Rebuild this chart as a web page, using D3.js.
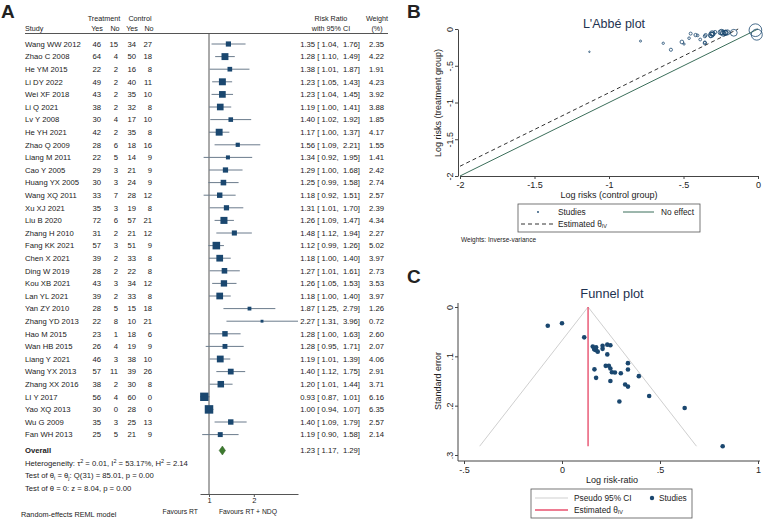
<!DOCTYPE html>
<html>
<head>
<meta charset="utf-8">
<script src="https://cdn.jsdelivr.net/npm/d3@7"></script>
<style>
  body { margin: 0; background: #fff; }
  svg { font-family: "Liberation Sans", Arial, sans-serif; }
</style>
</head>
<body>
<svg id="chart" width="768" height="522"></svg>
<script>
// Data
const studies = ["Wang WW 2012", "Zhao C 2008", "He YM 2015", "Li DY 2022", "Wei XF 2018", "Li Q 2021",
    "Lv Y 2008", "He YH 2021", "Zhao Q 2009", "Liang M 2011", "Cao Y 2005", "Huang YX 2005",
    "Wang XQ 2011", "Xu XJ 2021", "Liu B 2020", "Zhang H 2010", "Fang KK 2021", "Chen X 2021",
    "Ding W 2019", "Kou XB 2021", "Lan YL 2021", "Yan ZY 2010", "Zhang YD 2013", "Hao M 2015",
    "Wan HB 2015", "Liang Y 2021", "Wang YX 2013", "Zhang XX 2016", "LI Y 2017", "Yao XQ 2013",
    "Wu G 2009", "Fan WH 2013"];
const treatYes = [46, 64, 22, 49, 43, 38, 30, 42, 28, 22, 29, 30, 33, 35, 72, 31, 57, 39, 28, 43, 39, 28, 22, 23, 26, 46, 57, 38, 56, 30, 35, 25];
const treatNo  = [15, 4, 2, 2, 2, 2, 4, 2, 6, 5, 3, 3, 7, 3, 6, 2, 3, 2, 2, 3, 2, 5, 8, 1, 4, 3, 11, 2, 4, 0, 3, 5];
const ctrlYes  = [34, 50, 16, 40, 35, 32, 17, 35, 18, 14, 21, 24, 28, 19, 57, 21, 51, 33, 22, 34, 33, 15, 10, 18, 19, 38, 39, 30, 60, 28, 25, 21];
const ctrlNo   = [27, 18, 8, 11, 10, 8, 10, 8, 16, 9, 9, 9, 12, 8, 21, 12, 9, 8, 8, 12, 8, 18, 21, 6, 9, 10, 26, 8, 0, 0, 13, 9];
const rr = [1.35, 1.28, 1.38, 1.23, 1.23, 1.19, 1.40, 1.17, 1.56, 1.34, 1.29, 1.25, 1.18, 1.31, 1.26, 1.48,
    1.12, 1.18, 1.27, 1.26, 1.18, 1.87, 2.27, 1.28, 1.28, 1.19, 1.40, 1.20, 0.93, 1.00, 1.40, 1.19];
const rrLo = [1.04, 1.10, 1.01, 1.05, 1.04, 1.00, 1.02, 1.00, 1.09, 0.92, 1.00, 0.99, 0.92, 1.01, 1.09, 1.12,
    0.99, 1.00, 1.01, 1.05, 1.00, 1.25, 1.31, 1.00, 0.95, 1.01, 1.12, 1.01, 0.87, 0.94, 1.09, 0.90];
const rrHi = [1.76, 1.49, 1.87, 1.43, 1.45, 1.41, 1.92, 1.37, 2.21, 1.95, 1.68, 1.58, 1.51, 1.70, 1.47, 1.94,
    1.26, 1.40, 1.61, 1.53, 1.40, 2.79, 3.96, 1.63, 1.71, 1.39, 1.75, 1.44, 1.01, 1.07, 1.79, 1.58];
const weights = [2.35, 4.22, 1.91, 4.23, 3.92, 3.88, 1.85, 4.17, 1.55, 1.41, 2.42, 2.74, 2.57, 2.39, 4.34, 2.27,
    5.02, 3.97, 2.73, 3.53, 3.97, 1.26, 0.72, 2.60, 2.07, 4.06, 2.91, 3.71, 6.16, 6.35, 2.57, 2.14];
const overall = [1.23, 1.17, 1.29];
const thetaIV = 0.133;          // fixed-effect log risk-ratio (funnel apex / L'Abbé offset)
const forestTicks = [1, 2];
const labbeTicks = [-2, -1.5, -1, -0.5, 0];
const funnelXTicks = [-0.5, 0, 0.5, 1];
const funnelYTicks = [0, 0.1, 0.2, 0.3];

const navy = "#1a476f";
const svg = d3.select("#chart");
svg.append("rect").attr("width", 768).attr("height", 522).attr("fill", "#fff");

const stataFmt = d => d === 0 ? "0" : String(d).replace("0.", ".");
const f2 = d3.format(".2f");

// ---------- Panel A: forest plot ----------
const A = svg.append("g").attr("font-size", 7.7).attr("fill", "#222");
A.append("text").attr("x", 1).attr("y", 18).attr("font-size", 19).attr("font-weight", "bold").text("A");

const rowY = d3.scalePoint().domain(studies).range([44, 434.6]);
const xF = d3.scaleLog().domain([0.87, 3.96]).range([200, 298]);
const boxSize = d3.scaleSqrt().domain([0, 6.35]).range([0, 8.5]);

// headers
const H = A.append("g").attr("font-size", 7.2);
H.append("text").attr("x", 104).attr("y", 20.5).attr("text-anchor", "middle").text("Treatment");
H.append("text").attr("x", 140).attr("y", 20.5).attr("text-anchor", "middle").text("Control");
H.append("text").attr("x", 25).attr("y", 31).text("Study");
[[97, "Yes"], [115, "No"], [132, "Yes"], [149, "No"]].forEach(([x, t]) =>
    H.append("text").attr("x", x).attr("y", 31).attr("text-anchor", "middle").text(t));
H.append("text").attr("x", 331).attr("y", 20.5).attr("text-anchor", "middle").text("Risk Ratio");
H.append("text").attr("x", 331).attr("y", 31).attr("text-anchor", "middle").text("with 95% CI");
H.append("text").attr("x", 377).attr("y", 20.5).attr("text-anchor", "middle").text("Weight");
H.append("text").attr("x", 377).attr("y", 31).attr("text-anchor", "middle").text("(%)");
A.append("line").attr("x1", 25).attr("x2", 388).attr("y1", 33.5).attr("y2", 33.5)
    .attr("stroke", "#555").attr("stroke-width", 1);

// null line
A.append("line").attr("x1", xF(1)).attr("x2", xF(1)).attr("y1", 34).attr("y2", 494)
    .attr("stroke", "#555").attr("stroke-width", 1);

// study rows
const rows = A.selectAll("g.row").data(studies).join("g").attr("class", "row")
    .attr("transform", d => `translate(0,${rowY(d)})`);
rows.append("text").attr("x", 25).attr("dy", "0.35em").text(d => d);
const cols = [[101, treatYes], [118, treatNo], [136, ctrlYes], [152, ctrlNo]];
cols.forEach(([x, arr]) => {
    rows.append("text").attr("x", x).attr("dy", "0.35em").attr("text-anchor", "end")
        .text((d, i) => arr[i]);
});
rows.append("line")
    .attr("x1", (d, i) => xF(rrLo[i])).attr("x2", (d, i) => xF(rrHi[i]))
    .attr("stroke", "#6b7b8c").attr("stroke-width", 1);
rows.append("rect")
    .attr("x", (d, i) => xF(rr[i]) - boxSize(weights[i]) / 2)
    .attr("y", (d, i) => -boxSize(weights[i]) / 2)
    .attr("width", (d, i) => boxSize(weights[i]))
    .attr("height", (d, i) => boxSize(weights[i]))
    .attr("fill", navy);
rows.append("text").attr("x", 360).attr("dy", "0.35em").attr("text-anchor", "end")
    .attr("xml:space", "preserve")
    .text((d, i) => `${f2(rr[i])} [ ${f2(rrLo[i])},  ${f2(rrHi[i])}]`);
rows.append("text").attr("x", 384).attr("dy", "0.35em").attr("text-anchor", "end")
    .text((d, i) => f2(weights[i]));

// overall
const yO = 450.5;
A.append("text").attr("x", 25).attr("y", yO).attr("dy", "0.35em").attr("font-weight", "bold").text("Overall");
A.append("path")
    .attr("d", `M${xF(overall[1])},${yO} L${xF(overall[0])},${yO - 4.5} L${xF(overall[2])},${yO} L${xF(overall[0])},${yO + 4.5} Z`)
    .attr("fill", "#3d7a2e").attr("stroke", "#2d5e22").attr("stroke-width", 0.5);
A.append("text").attr("x", 360).attr("y", yO).attr("dy", "0.35em").attr("text-anchor", "end")
    .attr("xml:space", "preserve")
    .text(`${f2(overall[0])} [ ${f2(overall[1])},  ${f2(overall[2])}]`);

const het = A.append("text").attr("x", 25).attr("y", 466);
het.append("tspan").text("Heterogeneity: τ");
het.append("tspan").attr("dy", -3).attr("font-size", 5.5).text("2");
het.append("tspan").attr("dy", 3).text(" = 0.01, I");
het.append("tspan").attr("dy", -3).attr("font-size", 5.5).text("2");
het.append("tspan").attr("dy", 3).text(" = 53.17%, H");
het.append("tspan").attr("dy", -3).attr("font-size", 5.5).text("2");
het.append("tspan").attr("dy", 3).text(" = 2.14");
const t1 = A.append("text").attr("x", 25).attr("y", 478);
t1.append("tspan").text("Test of θ");
t1.append("tspan").attr("dy", 2).attr("font-size", 5.5).text("i");
t1.append("tspan").attr("dy", -2).text(" = θ");
t1.append("tspan").attr("dy", 2).attr("font-size", 5.5).text("j");
t1.append("tspan").attr("dy", -2).text(": Q(31) = 85.01, p = 0.00");
A.append("text").attr("x", 25).attr("y", 490.5).text("Test of θ = 0: z = 8.04, p = 0.00");
A.append("text").attr("x", 21).attr("y", 517).attr("font-size", 7.3).text("Random-effects REML model");

// axis
const axA = A.append("g").attr("transform", "translate(0,494)")
    .call(d3.axisBottom(xF).tickValues(forestTicks).tickFormat(d3.format("d")).tickSize(3).tickSizeOuter(0));
axA.select(".domain").attr("stroke", "#555");
axA.selectAll(".tick line").attr("stroke", "#555");
axA.selectAll("text").attr("font-size", 7.5).attr("fill", "#222").attr("y", 3.5);
axA.attr("font-family", null);
A.append("text").attr("x", 198).attr("y", 513.5).attr("font-size", 6.8).attr("text-anchor", "end").text("Favours RT");
A.append("text").attr("x", 248).attr("y", 513.5).attr("font-size", 6.8).attr("text-anchor", "middle").text("Favours RT + NDQ");

// ---------- shared helpers for B and C ----------
const se = rr.map((d, i) => (Math.log(rrHi[i]) - Math.log(rrLo[i])) / (2 * 1.96));
const styleAxis = g => {
    g.attr("font-family", null);
    g.select(".domain").attr("stroke", "#444");
    g.selectAll(".tick line").attr("stroke", "#444");
    g.selectAll(".tick text").attr("font-size", 9).attr("fill", "#222");
};
const rotateYLabels = g => {
    g.selectAll(".tick text").attr("x", 0).attr("dy", 0).attr("text-anchor", "middle")
        .attr("transform", "translate(-5,0) rotate(-90)");
};

// ---------- Panel B: L'Abbé plot ----------
const B = svg.append("g").attr("fill", "#222");
B.append("text").attr("x", 407).attr("y", 18).attr("font-size", 19).attr("font-weight", "bold").text("B");
B.append("text").attr("x", 614).attr("y", 27.5).attr("text-anchor", "middle").attr("font-size", 12.5)
    .attr("fill", "#1e3250").text("L'Abbé plot");

const xL = d3.scaleLinear().domain([-2, 0]).range([460, 758]);
const yL = d3.scaleLinear().domain([-2, 0]).range([176, 29]);

B.append("g").attr("transform", "translate(0,176)")
    .call(d3.axisBottom(xL).tickValues(labbeTicks).tickFormat(stataFmt).tickSize(3).tickSizeOuter(0))
    .call(styleAxis);
B.append("g").attr("transform", "translate(458,0)")
    .call(d3.axisLeft(yL).tickValues(labbeTicks).tickFormat(stataFmt).tickSize(3).tickSizeOuter(0))
    .call(styleAxis).call(rotateYLabels);
B.append("text").attr("x", 609).attr("y", 198).attr("text-anchor", "middle").attr("font-size", 9)
    .text("Log risks (control group)");
B.append("text").attr("transform", "translate(441,103) rotate(-90)").attr("text-anchor", "middle")
    .attr("font-size", 9).text("Log risks (treatment group)");

// reference lines
B.append("line").attr("x1", xL(-2)).attr("y1", yL(-2)).attr("x2", xL(0)).attr("y2", yL(0))
    .attr("stroke", "#3b6e5a").attr("stroke-width", 1);
B.append("line").attr("x1", xL(-2)).attr("y1", yL(-2 + thetaIV)).attr("x2", xL(-thetaIV)).attr("y2", yL(0))
    .attr("stroke", "#333").attr("stroke-width", 1).attr("stroke-dasharray", "4,3");

// study circles (0.5 continuity correction for zero cells)
const labbe = studies.map((s, i) => {
    const c = (treatNo[i] === 0 || ctrlNo[i] === 0) ? 0.5 : 0;
    return {
        x: Math.log((ctrlYes[i] + c) / (ctrlYes[i] + ctrlNo[i] + 2 * c)),
        y: Math.log((treatYes[i] + c) / (treatYes[i] + treatNo[i] + 2 * c)),
        r: 0.21 / se[i]
    };
});
B.append("g").selectAll("circle").data(labbe).join("circle")
    .attr("cx", d => xL(d.x)).attr("cy", d => yL(d.y)).attr("r", d => d.r)
    .attr("fill", "none").attr("stroke", navy).attr("stroke-width", 0.8);

// legend
const legB = B.append("g").attr("font-size", 8.3);
legB.append("rect").attr("x", 518).attr("y", 204).attr("width", 182).attr("height", 28)
    .attr("fill", "#fff").attr("stroke", "#555").attr("stroke-width", 0.8);
legB.append("circle").attr("cx", 538).attr("cy", 212).attr("r", 0.9).attr("fill", navy);
legB.append("text").attr("x", 558).attr("y", 212).attr("dy", "0.35em").text("Studies");
legB.append("line").attr("x1", 623).attr("x2", 654).attr("y1", 212).attr("y2", 212)
    .attr("stroke", "#3b6e5a");
legB.append("text").attr("x", 661).attr("y", 212).attr("dy", "0.35em").text("No effect");
legB.append("line").attr("x1", 521).attr("x2", 553).attr("y1", 224).attr("y2", 224)
    .attr("stroke", "#333").attr("stroke-dasharray", "4,3");
const eB = legB.append("text").attr("x", 558).attr("y", 224).attr("dy", "0.35em");
eB.append("tspan").text("Estimated θ");
eB.append("tspan").attr("font-size", 5.5).attr("dy", 1.5).text("IV");
B.append("text").attr("x", 461).attr("y", 242).attr("font-size", 6.5).text("Weights: Inverse-variance");

// ---------- Panel C: funnel plot ----------
const C = svg.append("g").attr("fill", "#222");
C.append("text").attr("x", 407).attr("y", 283).attr("font-size", 19).attr("font-weight", "bold").text("C");
C.append("text").attr("x", 612).attr("y", 297.5).attr("text-anchor", "middle").attr("font-size", 12.8)
    .attr("fill", "#1e3250").text("Funnel plot");

const xC = d3.scaleLinear().domain([-0.5, 1]).range([464, 758]);
const yC = d3.scaleLinear().domain([0, 0.3]).range([307, 455]);

C.append("g").attr("transform", "translate(0,461)")
    .call(d3.axisBottom(xC).tickValues(funnelXTicks).tickFormat(stataFmt).tickSize(3).tickSizeOuter(0))
    .call(styleAxis)
    .call(g => g.select(".domain").attr("d", "M458,0H760"));
C.append("g").attr("transform", "translate(458,0)")
    .call(d3.axisLeft(yC).tickValues(funnelYTicks).tickFormat(stataFmt).tickSize(3).tickSizeOuter(0))
    .call(styleAxis).call(rotateYLabels)
    .call(g => g.select(".domain").attr("d", "M0,303V461"));
C.append("text").attr("x", 612).attr("y", 483).attr("text-anchor", "middle").attr("font-size", 9)
    .text("Log risk-ratio");
C.append("text").attr("transform", "translate(441,381) rotate(-90)").attr("text-anchor", "middle")
    .attr("font-size", 9).text("Standard error");

// pseudo 95% CI funnel and estimate line
const seMax = d3.max(se);
C.append("path")
    .attr("d", d3.line()([
        [xC(thetaIV - 1.96 * seMax), yC(seMax)],
        [xC(thetaIV), yC(0)],
        [xC(thetaIV + 1.96 * seMax), yC(seMax)]
    ]))
    .attr("fill", "none").attr("stroke", "#cfcfcf").attr("stroke-width", 1);
C.append("line").attr("x1", xC(thetaIV)).attr("x2", xC(thetaIV)).attr("y1", yC(0)).attr("y2", yC(seMax))
    .attr("stroke", "#e8506e").attr("stroke-width", 1.4);

C.append("g").selectAll("circle").data(rr).join("circle")
    .attr("cx", d => xC(Math.log(d))).attr("cy", (d, i) => yC(se[i])).attr("r", 2.3)
    .attr("fill", navy);

// legend
const legC = C.append("g").attr("font-size", 8.3);
legC.append("rect").attr("x", 531).attr("y", 489).attr("width", 161).attr("height", 29)
    .attr("fill", "#fff").attr("stroke", "#555").attr("stroke-width", 0.8);
legC.append("line").attr("x1", 535).attr("x2", 568).attr("y1", 498).attr("y2", 498)
    .attr("stroke", "#cfcfcf").attr("stroke-width", 1);
legC.append("text").attr("x", 574).attr("y", 498).attr("dy", "0.35em").text("Pseudo 95% CI");
legC.append("circle").attr("cx", 652).attr("cy", 498).attr("r", 2.2).attr("fill", navy);
legC.append("text").attr("x", 659).attr("y", 498).attr("dy", "0.35em").text("Studies");
legC.append("line").attr("x1", 535).attr("x2", 568).attr("y1", 510).attr("y2", 510)
    .attr("stroke", "#e8506e").attr("stroke-width", 1.4);
const eC = legC.append("text").attr("x", 574).attr("y", 510).attr("dy", "0.35em");
eC.append("tspan").text("Estimated θ");
eC.append("tspan").attr("font-size", 5.5).attr("dy", 1.5).text("IV");
</script>
</body>
</html>
